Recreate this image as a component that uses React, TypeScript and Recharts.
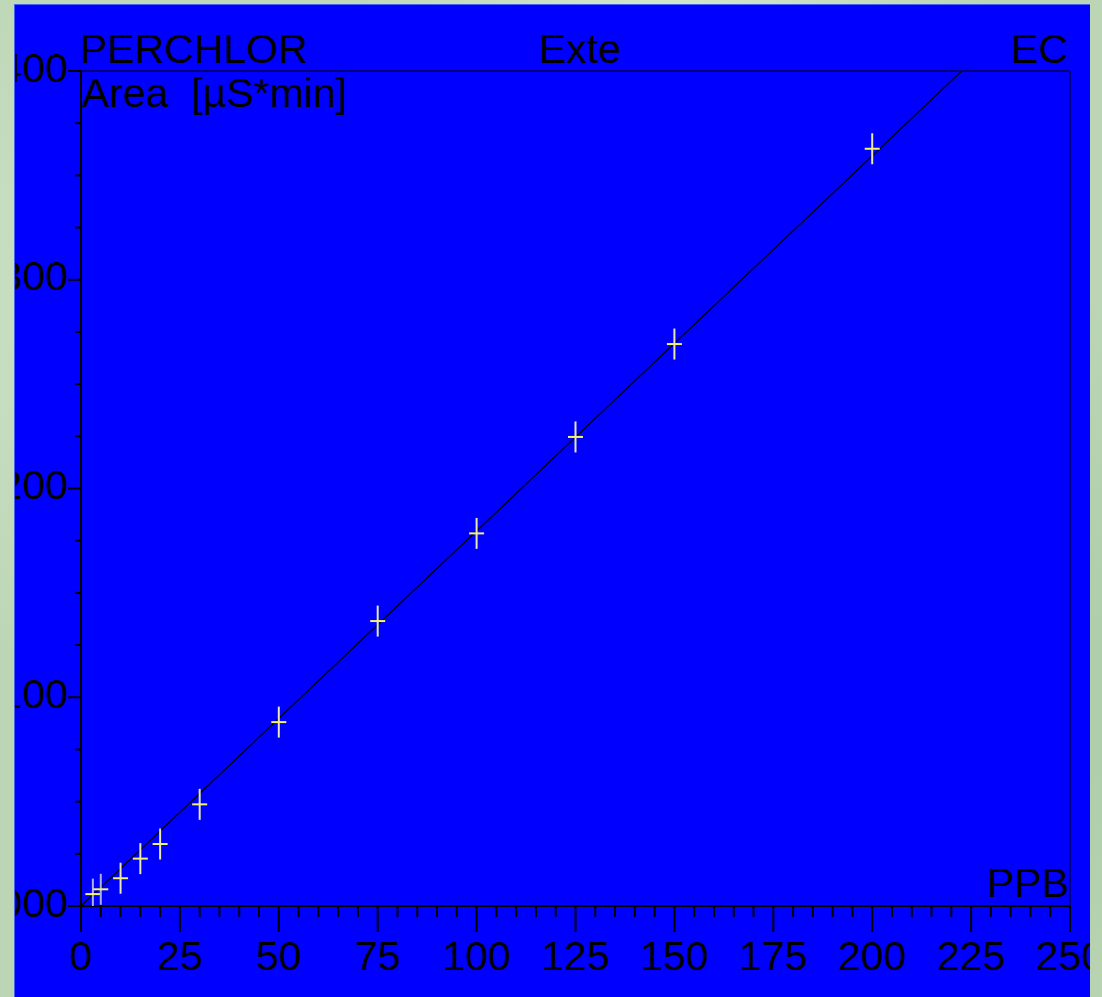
import React from 'react';
import { ComposedChart, Scatter, Line, XAxis, YAxis, ReferenceLine } from 'recharts';

// calibration standards (concentration in PPB, peak area in µS*min)
const ppb = [3, 5, 10, 15, 20, 30, 50, 75, 100, 125, 150, 200];
const area = [0.0057, 0.008, 0.0133, 0.0227, 0.0297, 0.0487, 0.0881, 0.1365, 0.1785, 0.2247, 0.2692, 0.3628];
// standards that were not used in the fit
const disabledLevels = [3, 5];

// fitted calibration line end points
const fitPpb = [0, 250];
const fitArea = [0, 0.4492];

const xMajorTicks = [0, 25, 50, 75, 100, 125, 150, 175, 200, 225, 250];
const xMinorStep = 5;
const yMajorTicks = [0, 0.1, 0.2, 0.3, 0.4];
const yMinorStep = 0.025;

const titleLeft = 'PERCHLOR';
const titleMid = 'Exte';
const titleRight = 'EC';
const yTitle = 'Area  [µS*min]';
const xTitle = 'PPB';

const points = ppb.map((x, i) => ({ x, y: area[i] }));
const fitData = fitPpb.map((x, i) => ({ x, y: fitArea[i] }));

const xTicks: number[] = [];
for (let v = 0; v <= 250; v += xMinorStep) xTicks.push(v);
const yTicks: number[] = [];
for (let i = 0; i <= 16; i++) yTicks.push(Math.round(i * yMinorStep * 1000) / 1000);

const FONT = '"Liberation Sans", Arial, sans-serif';
const FS = 41;

const XTick = (props: any) => {
  const { x, y, payload } = props;
  const v = payload.value;
  const major = xMajorTicks.includes(v);
  return (
    <g>
      <line x1={x} x2={x} y1={y} y2={y + (major ? 26 : 11)} stroke="#000" strokeWidth={2} />
      {major && (
        <text x={x} y={y + 64} textAnchor="middle" fontSize={FS} fontFamily={FONT} fill="#000">
          {v}
        </text>
      )}
    </g>
  );
};

const YTick = (props: any) => {
  const { x, y, payload } = props;
  const v = payload.value;
  const major = yMajorTicks.some((m) => Math.abs(m - v) < 1e-6);
  return (
    <g>
      <line x1={x} x2={x - (major ? 13 : 6)} y1={y} y2={y} stroke="#000" strokeWidth={2} />
      {major && (
        <text x={x - 13} y={y + 10.5} textAnchor="end" fontSize={FS} fontFamily={FONT} fill="#000">
          {v.toFixed(3)}
        </text>
      )}
    </g>
  );
};

const Cross = (props: any) => {
  const { cx, cy, payload } = props;
  const off = disabledLevels.includes(payload?.x);
  return (
    <g>
      <line x1={cx} x2={cx} y1={cy - 15.5} y2={cy + 15.5} stroke={off ? '#b0b0dc' : '#e8e8b0'} strokeWidth={2} />
      <line x1={cx - 7.5} x2={cx + 7.5} y1={cy} y2={cy} stroke="#f4f46c" strokeWidth={2} />
    </g>
  );
};

const textStyle = { fontFamily: FONT, fontSize: FS, fill: '#000' };

export default function App() {
  return (
    <div
      style={{
        position: 'absolute',
        left: 0,
        top: 0,
        width: 1102,
        height: 997,
        overflow: 'hidden',
        background:
          'radial-gradient(ellipse at 20% 30%, #cfe3c8 0%, rgba(207,227,200,0) 40%),' +
          'radial-gradient(ellipse at 80% 70%, #a9c9a2 0%, rgba(169,201,162,0) 45%),' +
          'radial-gradient(ellipse at 60% 10%, #d6e8d0 0%, rgba(214,232,208,0) 35%),' +
          '#bcd6b5',
      }}
    >
      <div
        style={{
          position: 'absolute',
          left: 14,
          top: 4,
          width: 1076,
          height: 993,
          overflow: 'hidden',
          background: '#0000ff',
          borderLeft: '1px solid #4b63f2',
          borderTop: '1px solid #4b63f2',
          boxSizing: 'border-box',
        }}
      >
        <div style={{ position: 'absolute', left: -15, top: -5 }}>
          <ComposedChart width={1102} height={997} margin={{ top: 71, right: 32, bottom: 31, left: 21 }}>
            <XAxis
              dataKey="x"
              type="number"
              domain={[0, 250]}
              ticks={xTicks}
              interval={0}
              height={60}
              tickSize={0}
              tickMargin={0}
              tickLine={false}
              tick={<XTick />}
              axisLine={{ stroke: '#000', strokeWidth: 2 }}
            />
            <YAxis
              dataKey="y"
              type="number"
              domain={[0, 0.4]}
              allowDataOverflow
              ticks={yTicks}
              interval={0}
              width={60}
              tickSize={0}
              tickMargin={0}
              tickLine={false}
              tick={<YTick />}
              axisLine={{ stroke: '#000', strokeWidth: 2 }}
            />
            <ReferenceLine y={0.4} stroke="#000050" strokeWidth={1.5} />
            <ReferenceLine x={250} stroke="#000050" strokeWidth={1.5} />
            <Line
              data={fitData}
              dataKey="y"
              type="linear"
              stroke="#000"
              strokeWidth={1.3}
              dot={false}
              activeDot={false}
              isAnimationActive={false}
            />
            <Scatter data={points} dataKey="y" shape={<Cross />} isAnimationActive={false} />
          </ComposedChart>
          <svg
            width={1102}
            height={997}
            style={{ position: 'absolute', left: 0, top: 0, pointerEvents: 'none' }}
          >
            <text x={80} y={63} style={textStyle}>{titleLeft}</text>
            <text x={539} y={63} style={textStyle}>{titleMid}</text>
            <text x={1068} y={63} textAnchor="end" style={textStyle}>{titleRight}</text>
            <text x={82} y={107} style={{ ...textStyle, whiteSpace: 'pre' }}>{yTitle}</text>
            <text x={1069} y={897} textAnchor="end" style={textStyle}>{xTitle}</text>
          </svg>
        </div>
      </div>
    </div>
  );
}
